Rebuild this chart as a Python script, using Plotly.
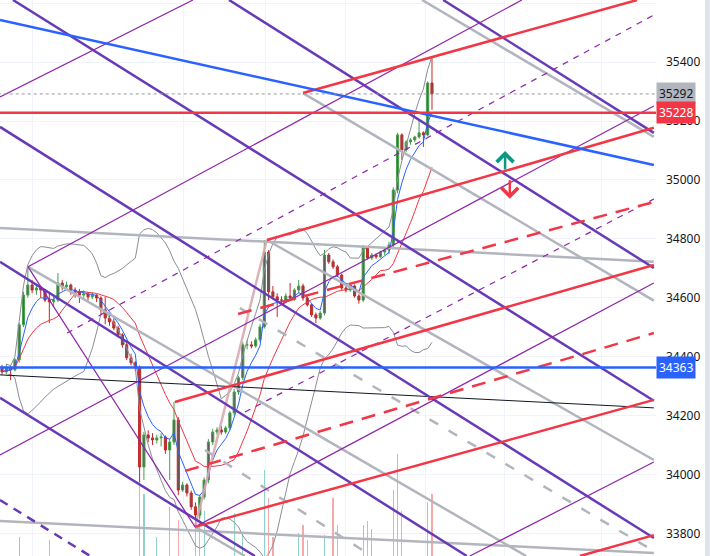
import pandas as pd
import plotly.graph_objects as go

# candles (price), bar index 0..100
bars = list(range(101))
opens = [34360, 34348, 34362, 34355, 34389, 34508, 34609, 34643, 34626, 34633,
         34626, 34592, 34586, 34592, 34650, 34637, 34643, 34626, 34620, 34609,
         34613, 34603, 34609, 34599, 34559, 34531, 34518, 34497, 34474, 34440,
         34396, 34379, 34362, 34025, 34134, 34124, 34117, 34124, 34127, 34083,
         34110, 34185, 33947, 33964, 33937, 33890, 33862, 33923, 33981, 34110,
         34144, 34151, 34144, 34158, 34209, 34280, 34328, 34440, 34440, 34436,
         34457, 34501, 34755, 34620, 34603, 34592, 34592, 34606, 34599, 34626,
         34640, 34599, 34576, 34542, 34531, 34548, 34745, 34722, 34705, 34677,
         34633, 34626, 34640, 34606, 34592, 34769, 34735, 34745, 34739, 34755,
         34762, 34779, 34966, 35153, 35102, 35129, 35136, 35146, 35160, 35153,
         35329]
highs = [34372, 34375, 34370, 34395, 34515, 34620, 34705, 34660, 34645, 34640,
         34630, 34615, 34605, 34684, 34660, 34655, 34648, 34635, 34630, 34625,
         34620, 34618, 34612, 34605, 34603, 34545, 34530, 34505, 34480, 34448,
         34410, 34385, 34370, 34145, 34150, 34140, 34135, 34140, 34132, 34120,
         34246, 34195, 33975, 33970, 33945, 33905, 33930, 33990, 34120, 34155,
         34160, 34165, 34165, 34215, 34290, 34335, 34450, 34455, 34452, 34465,
         34510, 34796, 34762, 34640, 34615, 34605, 34615, 34650, 34632, 34660,
         34648, 34605, 34580, 34550, 34555, 34762, 34752, 34730, 34712, 34682,
         34645, 34648, 34645, 34612, 34779, 34775, 34752, 34750, 34760, 34770,
         34790, 34975, 35160, 35158, 35135, 35142, 35150, 35200, 35165, 35335,
         35418]
lows = [34338, 34340, 34320, 34350, 34380, 34500, 34600, 34615, 34610, 34600,
        34585, 34514, 34570, 34585, 34625, 34628, 34610, 34600, 34582, 34598,
        34590, 34595, 34585, 34545, 34510, 34505, 34490, 34465, 34430, 34388,
        34370, 34350, 33974, 33981, 34110, 34100, 34105, 34095, 34070, 33981,
        34100, 33930, 33940, 33925, 33880, 33822, 33850, 33915, 33970, 34100,
        34135, 34135, 34138, 34150, 34200, 34270, 34320, 34425, 34428, 34430,
        34450, 34495, 34592, 34595, 34535, 34580, 34585, 34590, 34590, 34615,
        34590, 34570, 34535, 34514, 34525, 34540, 34715, 34698, 34670, 34625,
        34618, 34620, 34600, 34580, 34585, 34730, 34728, 34732, 34735, 34745,
        34748, 34770, 34955, 35068, 35095, 35120, 35128, 35140, 35112, 35148,
        35238]
closes = [34348, 34362, 34355, 34389, 34508, 34609, 34643, 34626, 34633, 34626,
          34592, 34586, 34592, 34650, 34637, 34643, 34626, 34620, 34609, 34613,
          34603, 34609, 34599, 34559, 34531, 34518, 34497, 34474, 34440, 34396,
          34379, 34362, 34025, 34134, 34124, 34117, 34124, 34127, 34083, 34110,
          34185, 33947, 33964, 33937, 33890, 33862, 33923, 33981, 34110, 34144,
          34151, 34144, 34158, 34209, 34280, 34328, 34440, 34440, 34436, 34457,
          34501, 34755, 34620, 34603, 34592, 34592, 34606, 34599, 34626, 34640,
          34599, 34576, 34542, 34531, 34548, 34745, 34722, 34705, 34677, 34633,
          34626, 34640, 34606, 34592, 34769, 34735, 34745, 34739, 34755, 34762,
          34779, 34966, 35153, 35102, 35129, 35136, 35146, 35160, 35153, 35329,
          35292]
volumes = [240, 200, 260, 230, 390, 280, 300, 220, 210, 190,
           230, 380, 200, 290, 210, 190, 200, 180, 230, 170,
           190, 180, 200, 260, 300, 220, 240, 260, 280, 290,
           270, 250, 680, 600, 260, 280, 390, 220, 250, 540,
           290, 475, 280, 300, 250, 500, 500, 520, 290, 270,
           230, 210, 220, 260, 510, 300, 410, 250, 230, 260,
           280, 720, 580, 390, 270, 230, 250, 260, 280, 410,
           450, 380, 250, 270, 240, 400, 260, 580, 450, 270,
           250, 230, 240, 260, 450, 470, 430, 250, 230, 240,
           270, 620, 795, 520, 280, 250, 240, 260, 300, 560,
           600]

# price levels and axis ticks
last_price = 35292
red_level = 35228
blue_level = 34363
price_ticks = [33800, 34000, 34200, 34400, 34600, 34800, 35000, 35200, 35400, 35600]
session_ticks = [7.2, 42.3, 61.2, 79.8, 98.4, 116.9, 139.5]

# drawings: (bar0, price0, bar1, price1)
blue_trend = [(-0.47, 35543, 151.6, 35051)]
black_trend = [(-0.47, 34338, 151.6, 34226)]
gray_solid = [(-0.47, 34837, 151.6, 34722), (-0.47, 33842, 151.6, 33733),
              (97.7, 35611, 151.6, 35146), (70.0, 35295, 151.6, 34590),
              (6.05, 34705, 121.9, 33723), (61.6, 34796, 151.6, 34049),
              (44.9, 33822, 56.5, 33723)]
gray_dashed = [(55.3, 34565, 151.6, 33740), (47.2, 34083, 86.0, 33723)]
pink_handle = [(44.9, 33822, 61.6, 34796)]
purple_thick = [(52.8, 35611, 151.6, 34701), (2.56, 35611, 151.6, 34250),
                (102.6, 35611, 151.6, 35160), (-0.47, 35180, 151.6, 33784),
                (-0.47, 34722, 108.1, 33723), (-0.47, 34260, 58.8, 33723)]
purple_thick_dashed = [(-0.47, 33913, 20.5, 33723)]
purple_thin = [(-0.47, 35282, 44.4, 35611), (6.05, 34705, 120.9, 35611),
               (-0.47, 34066, 151.6, 35251), (44.9, 33822, 151.6, 34650),
               (108.8, 33723, 151.6, 34042), (6.05, 34705, 44.9, 33822)]
purple_dashed = [(15.1, 34480, 151.6, 35560), (56.5, 34212, 151.6, 34935)]
red_solid = [(70.0, 35295, 147.7, 35611), (61.6, 34796, 151.6, 35177),
             (40.2, 34246, 151.6, 34711), (44.9, 33822, 151.6, 34253),
             (134.4, 33723, 151.6, 33794)]
red_dashed = [(42.6, 34012, 151.6, 34480), (54.9, 34545, 151.6, 34925)]

# arrows (bar, price of tip)
up_arrow = (117.0, 35098)
down_arrow = (118.1, 34936)


def seg_xy(segs):
    xs, ys = [], []
    for x0, y0, x1, y1 in segs:
        xs += [x0, x1, None]
        ys += [y0, y1, None]
    return xs, ys


df = pd.DataFrame({'open': opens, 'high': highs, 'low': lows, 'close': closes})
ema_fast = df['close'].ewm(span=5, adjust=False).mean()
sma_slow = df['close'].rolling(14, min_periods=1).mean()
bb_mid = df['close'].rolling(20, min_periods=1).mean()
bb_std = df['close'].rolling(20, min_periods=2).std()
bb_up = bb_mid + 2 * bb_std
bb_dn = bb_mid - 2 * bb_std

fig = go.Figure()

# volume on the hidden base axis
vol_colors = ['rgba(38,166,154,0.5)' if c >= o else 'rgba(239,83,80,0.5)'
              for o, c in zip(opens, closes)]
fig.add_trace(go.Bar(x=bars, y=volumes, width=0.28, marker=dict(color=vol_colors, line=dict(width=0)),
                     yaxis='y', hoverinfo='skip', showlegend=False))

# candles
fig.add_trace(go.Candlestick(
    x=bars, open=opens, high=highs, low=lows, close=closes,
    increasing=dict(line=dict(color='#43a047', width=1), fillcolor='#5c5c5c'),
    decreasing=dict(line=dict(color='#c62828', width=1), fillcolor='#5c5c5c'),
    whiskerwidth=0, yaxis='y2', hoverinfo='skip', showlegend=False))

# indicators
for series, color in [(bb_up, '#8a8d96'), (bb_dn, '#8a8d96'), (sma_slow, '#f23645'), (ema_fast, '#2962ff')]:
    fig.add_trace(go.Scatter(x=bars, y=series, mode='lines', line=dict(color=color, width=1),
                             yaxis='y2', hoverinfo='skip', showlegend=False))

# drawings
styles = [
    (gray_solid, dict(color='#b2b5be', width=2.5)),
    (gray_dashed, dict(color='#b2b5be', width=2.5, dash='10px,12px')),
    (pink_handle, dict(color='rgba(214,170,178,0.9)', width=2.5)),
    (black_trend, dict(color='#131722', width=1)),
    (purple_thick, dict(color='#673ab7', width=2.5)),
    (purple_thick_dashed, dict(color='#673ab7', width=2.5, dash='9px,7px')),
    (purple_thin, dict(color='#8e24aa', width=1.2)),
    (purple_dashed, dict(color='#8e24aa', width=1.2, dash='6px,6px')),
    (red_solid, dict(color='#f23645', width=2.5)),
    (red_dashed, dict(color='#f23645', width=2.5, dash='14px,9px')),
    (blue_trend, dict(color='#2962ff', width=2.5)),
]
for segs, line in styles:
    xs, ys = seg_xy(segs)
    fig.add_trace(go.Scatter(x=xs, y=ys, mode='lines', line=line, yaxis='y2',
                             hoverinfo='skip', showlegend=False))

# horizontal levels
fig.add_trace(go.Scatter(x=[-1, 160], y=[last_price, last_price], mode='lines',
                         line=dict(color='#9598a1', width=1, dash='dot'), yaxis='y2',
                         hoverinfo='skip', showlegend=False))
fig.add_trace(go.Scatter(x=[-1, 160], y=[red_level, red_level], mode='lines',
                         line=dict(color='#f23645', width=2.5), yaxis='y2',
                         hoverinfo='skip', showlegend=False))
fig.add_trace(go.Scatter(x=[-1, 160], y=[blue_level, blue_level], mode='lines',
                         line=dict(color='#2962ff', width=2.5), yaxis='y2',
                         hoverinfo='skip', showlegend=False))

# up / down arrows (open chevron heads)
fig.add_annotation(x=up_arrow[0], y=up_arrow[1], xref='x', yref='y2', ax=0, ay=20,
                   showarrow=True, arrowhead=4, arrowsize=1.3, arrowwidth=2.5, arrowcolor='#089981', text='')
fig.add_annotation(x=down_arrow[0], y=down_arrow[1], xref='x', yref='y2', ax=0, ay=-20,
                   showarrow=True, arrowhead=4, arrowsize=1.3, arrowwidth=2.5, arrowcolor='#f23645', text='')

# price labels on the axis
for value, bg, fg in [(last_price, '#b2b5be', '#131722'), (red_level, '#f23645', 'white'),
                      (blue_level, '#2962ff', 'white')]:
    fig.add_annotation(x=1, y=value, xref='paper', yref='y2', xanchor='left', yanchor='middle',
                       text=str(value), showarrow=False, bgcolor=bg, borderpad=2,
                       font=dict(color=fg, size=12, family='Noto Sans'))

# right edge strip
fig.add_shape(type='rect', xref='paper', yref='paper', x0=1.0747, x1=1.2, y0=0, y1=1,
              fillcolor='#e0e3eb', line=dict(width=0), layer='above')

fig.update_layout(
    width=710, height=556,
    margin=dict(l=0, r=54, t=0, b=0),
    plot_bgcolor='white', paper_bgcolor='white',
    showlegend=False,
    bargap=0,
    xaxis=dict(range=[-0.47, 152.1], showticklabels=False, tickvals=session_ticks,
               showgrid=True, gridcolor='#f0f3fa', zeroline=False, showline=False,
               rangeslider=dict(visible=False), fixedrange=True),
    yaxis=dict(range=[300, 3000], visible=False, showgrid=False, fixedrange=True),
    yaxis2=dict(range=[33723, 35611], overlaying='y', side='right', anchor='x',
                tickvals=price_ticks, tickformat='d', showgrid=True, gridcolor='#f0f3fa',
                zeroline=False, showline=False, ticks='', ticklabelstandoff=9,
                tickfont=dict(size=12, color='#131722', family='Noto Sans')),
)

# drop the page margin so the chart sits flush in the window
fig.write_html("out.html", config={'displayModeBar': False},
               post_script="document.body.style.margin='0';")
